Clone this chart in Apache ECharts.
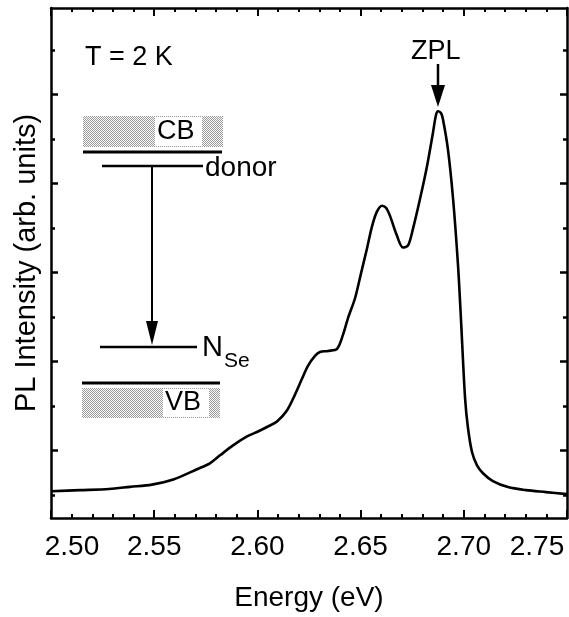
<!DOCTYPE html>
<html>
<head>
<meta charset="utf-8">
<title>PL spectrum, T = 2 K</title>
<script src="https://cdn.jsdelivr.net/npm/echarts@6.0.0/dist/echarts.min.js"></script>
<style>
  html, body { margin: 0; padding: 0; background: #fff; }
  #chart { width: 569px; height: 617px; }
</style>
</head>
<body>
<div id="chart"></div>
<script>
// Values (arb. units, one unit = one major y tick)
const energy = [
  2.5000, 2.5141, 2.5281, 2.5383, 2.5489, 2.5596, 2.5707, 2.5770, 2.5819, 2.5882,
  2.5950, 2.6003, 2.6051, 2.6095, 2.6143, 2.6182, 2.6216, 2.6245, 2.6279, 2.6303,
  2.6342, 2.6386, 2.6415, 2.6439, 2.6473, 2.6502, 2.6531, 2.6555, 2.6579, 2.6604,
  2.6623, 2.6642, 2.6676, 2.6705, 2.6730, 2.6754, 2.6788, 2.6822, 2.6851, 2.6865,
  2.6875, 2.6890, 2.6899, 2.6923, 2.6948, 2.6972, 2.6986, 2.7006, 2.7020, 2.7040,
  2.7064, 2.7093, 2.7141, 2.7214, 2.7301, 2.7398, 2.7500
];
const intensity = [
  0.540, 0.553, 0.566, 0.590, 0.615, 0.676, 0.788, 0.855, 0.944, 1.056,
  1.156, 1.212, 1.268, 1.324, 1.447, 1.626, 1.804, 1.950, 2.061, 2.106,
  2.117, 2.140, 2.300, 2.486, 2.709, 2.989, 3.268, 3.514, 3.682, 3.749,
  3.726, 3.637, 3.413, 3.279, 3.302, 3.492, 3.827, 4.196, 4.575, 4.765,
  4.810, 4.788, 4.721, 4.385, 3.827, 3.078, 2.486, 1.592, 1.257, 0.978,
  0.832, 0.743, 0.654, 0.587, 0.553, 0.531, 0.508
];

const xMin = 2.50, xMax = 2.75, xStep = 0.05;
const yMin = 0.24, yMax = 5.97;
const yMajorTicks = [1, 2, 3, 4, 5];
const yMinorTicks = [0.5, 1.5, 2.5, 3.5, 4.5, 5.5];

const FONT = "'Liberation Sans', Arial, Helvetica, sans-serif";
const INK = '#000';
const FS = 28;

// stippled grey fill for the band boxes
function stipple() {
  const c = document.createElement('canvas');
  c.width = 2; c.height = 2;
  const ctx = c.getContext('2d');
  ctx.fillStyle = '#fcfcfc'; ctx.fillRect(0, 0, 2, 2);
  ctx.fillStyle = '#9a9a9a';
  ctx.fillRect(0, 0, 1, 1); ctx.fillRect(1, 1, 1, 1);
  return { image: c, repeat: 'repeat' };
}
const shade = stipple();

function yAxisDef(position, ticks, len, showLine) {
  return {
    type: 'value', position, min: yMin, max: yMax,
    axisLine: { show: showLine, onZero: false, lineStyle: { color: INK, width: 2.5 } },
    axisTick: { show: true, inside: true, length: len, customValues: ticks, lineStyle: { color: INK, width: 2.5 } },
    axisLabel: { show: false },
    splitLine: { show: false }
  };
}

// end labels sit inside the frame, as in the original
function xLabel(v) {
  const s = v.toFixed(2);
  if (Math.abs(v - xMin) < 1e-9) return '{first|' + s + '}';
  if (Math.abs(v - xMax) < 1e-9) return '{last|' + s + '}';
  return s;
}

const chart = echarts.init(document.getElementById('chart'));

chart.setOption({
  animation: false,
  backgroundColor: '#fff',
  textStyle: { fontFamily: FONT, color: INK },
  grid: { left: 51, top: 8, width: 516, height: 513, containLabel: false },
  xAxis: [
    {
      type: 'value', position: 'bottom', min: xMin, max: xMax, interval: xStep,
      name: 'Energy (eV)', nameLocation: 'middle', nameGap: 66,
      nameTextStyle: { fontSize: FS, color: INK, fontFamily: FONT },
      axisLine: { onZero: false, lineStyle: { color: INK, width: 2.5 } },
      axisTick: { inside: true, length: 8, lineStyle: { color: INK, width: 2 } },
      minorTick: { show: true, splitNumber: 5, length: 4, lineStyle: { color: INK, width: 2 } },
      axisLabel: {
        fontSize: FS, color: INK, fontFamily: FONT, margin: 15,
        alignMinLabel: 'center', alignMaxLabel: 'center',
        formatter: xLabel,
        rich: {
          first: { fontSize: FS, fontFamily: FONT, color: INK, padding: [0, 0, 0, 42] },
          last: { fontSize: FS, fontFamily: FONT, color: INK, padding: [0, 60, 0, 0] }
        }
      },
      splitLine: { show: false }
    },
    {
      type: 'value', position: 'top', min: xMin, max: xMax, interval: xStep,
      axisLine: { onZero: false, lineStyle: { color: INK, width: 2.5 } },
      axisTick: { inside: true, length: 8, lineStyle: { color: INK, width: 2 } },
      minorTick: { show: true, splitNumber: 5, length: 4, lineStyle: { color: INK, width: 2 } },
      axisLabel: { show: false },
      splitLine: { show: false }
    }
  ],
  yAxis: [
    Object.assign(yAxisDef('left', yMajorTicks, 7, true), {
      name: 'PL Intensity (arb. units)', nameLocation: 'middle', nameGap: 10, nameRotate: 90,
      nameTextStyle: { fontSize: 29, color: INK, fontFamily: FONT }
    }),
    yAxisDef('left', yMinorTicks, 4, false),
    yAxisDef('right', yMajorTicks, 7, true),
    yAxisDef('right', yMinorTicks, 4, false)
  ],
  series: [{
    type: 'line',
    data: energy.map((e, i) => [e, intensity[i]]),
    showSymbol: false,
    smooth: 0.3,
    lineStyle: { color: INK, width: 2.6 },
    z: 3
  }],
  graphic: [
    { type: 'text', left: 85, top: 44, style: { text: 'T = 2 K', font: '27px ' + FONT, fill: INK } },
    { type: 'text', left: 411, top: 38, style: { text: 'ZPL', font: '27px ' + FONT, fill: INK } },
    { type: 'line', shape: { x1: 438, y1: 64, x2: 438, y2: 90 }, style: { stroke: INK, lineWidth: 2.5 } },
    { type: 'polygon', shape: { points: [[431, 85], [445, 85], [438, 107]] }, style: { fill: INK } },

    // energy-level sketch
    { type: 'rect', shape: { x: 83, y: 116, width: 140, height: 31 }, style: { fill: shade } },
    { type: 'rect', shape: { x: 155, y: 117, width: 47, height: 29 }, style: { fill: '#fff' } },
    { type: 'text', left: 157, top: 118, style: { text: 'CB', font: '27px ' + FONT, fill: INK } },
    { type: 'line', shape: { x1: 83, y1: 152, x2: 222, y2: 152 }, style: { stroke: INK, lineWidth: 3 } },
    { type: 'line', shape: { x1: 102, y1: 166, x2: 203, y2: 166 }, style: { stroke: INK, lineWidth: 2.5 } },
    { type: 'text', left: 205, top: 154, style: { text: 'donor', font: '28px ' + FONT, fill: INK } },
    { type: 'line', shape: { x1: 152, y1: 166, x2: 152, y2: 326 }, style: { stroke: INK, lineWidth: 2 } },
    { type: 'polygon', shape: { points: [[146, 321], [158, 321], [152, 345]] }, style: { fill: INK } },
    { type: 'line', shape: { x1: 100, y1: 347, x2: 197, y2: 347 }, style: { stroke: INK, lineWidth: 2.5 } },
    { type: 'text', left: 202, top: 333, style: { text: 'N', font: '29px ' + FONT, fill: INK } },
    { type: 'text', left: 224, top: 351, style: { text: 'Se', font: '21px ' + FONT, fill: INK } },
    { type: 'line', shape: { x1: 82, y1: 383, x2: 220, y2: 383 }, style: { stroke: INK, lineWidth: 3 } },
    { type: 'rect', shape: { x: 82, y: 388, width: 138, height: 30 }, style: { fill: shade } },
    { type: 'rect', shape: { x: 163, y: 389, width: 46, height: 28 }, style: { fill: '#fff' } },
    { type: 'text', left: 165, top: 389, style: { text: 'VB', font: '27px ' + FONT, fill: INK } }
  ]
});
</script>
</body>
</html>
